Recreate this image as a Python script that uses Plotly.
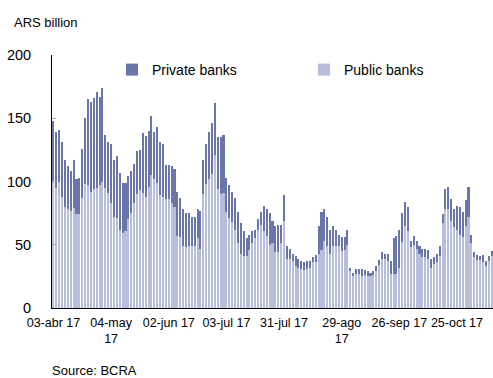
import plotly.graph_objects as go

# daily business-day series, 03-abr-17 onward (ARS billion)
public_banks = [100, 95, 100, 88, 80, 78, 77, 79, 74, 74, 87, 98, 97, 92, 94, 95, 97, 100, 95, 91,
                83, 72, 71, 62, 59, 61, 70, 75, 83, 90, 93, 91, 88, 96, 105, 102, 99, 89, 88, 86,
                86, 83, 80, 57, 56, 49, 48, 49, 49, 49, 55, 47, 90, 98, 102, 106, 121, 94, 90, 91,
                76, 71, 68, 62, 51, 43, 41, 41, 46, 51, 55, 62, 66, 61, 57, 50, 51, 44, 44, 51,
                69, 39, 39, 37, 33, 32, 31, 30, 31, 32, 36, 36, 43, 46, 53, 49, 43, 49, 49, 49,
                45, 46, 50, 29, 25, 27, 27, 25, 26, 25, 25, 26, 29, 34, 39, 39, 37, 27, 27, 27,
                32, 52, 65, 61, 48, 50, 47, 43, 40, 40, 39, 32, 35, 36, 41, 67, 78, 78, 69, 64,
                62, 58, 56, 65, 72, 51, 40, 38, 38, 36, 33, 37, 41]
private_banks = [48, 44, 41, 43, 37, 34, 31, 38, 28, 29, 39, 52, 68, 71, 72, 76, 70, 74, 42, 40,
                 47, 45, 49, 45, 40, 38, 34, 33, 31, 34, 32, 47, 48, 44, 47, 37, 44, 42, 42, 27,
                 27, 29, 30, 35, 31, 29, 27, 26, 23, 23, 23, 30, 27, 32, 37, 40, 41, 41, 45, 46,
                 27, 26, 24, 25, 25, 24, 20, 14, 12, 10, 7, 8, 10, 20, 21, 25, 18, 21, 22, 15,
                 20, 10, 8, 6, 8, 7, 6, 6, 6, 5, 4, 6, 22, 30, 25, 23, 19, 16, 13, 9,
                 11, 10, 12, 3, 3, 4, 4, 6, 4, 4, 3, 3, 4, 4, 5, 4, 6, 10, 28, 30,
                 30, 23, 19, 19, 5, 7, 6, 6, 7, 7, 7, 7, 5, 7, 8, 7, 16, 18, 17, 14,
                 19, 22, 20, 20, 24, 7, 4, 4, 3, 6, 4, 4, 4]
days = list(range(len(public_banks)))

tick_pos = [0, 20, 40, 60, 80, 100, 120, 140]
tick_labels = ['03-abr 17', '04-may<br>17', '02-jun 17', '03-jul 17', '31-jul 17',
               '29-ago<br>17', '26-sep 17', '25-oct 17']

fnt = 'Liberation Sans'
L, R, T, B = 52, 0, 55, 70
W, H = 493, 378
pw, ph = W - L - R, H - T - B


def px(x):
    return (x - L) / pw


def py(y):
    return (H - B - y) / ph


fig = go.Figure()
fig.add_trace(go.Bar(x=days, y=public_banks, name='Public banks', marker_color='#B9BDDC',
                     marker_line_width=0, legend='legend2'))
fig.add_trace(go.Bar(x=days, y=private_banks, name='Private banks', marker_color='#6A75A9',
                     marker_line_width=0, legend='legend'))

fig.update_layout(
    width=W, height=H, barmode='stack', bargap=0.3, showlegend=True,
    margin=dict(l=L, r=R, t=T, b=B, autoexpand=False),
    plot_bgcolor='white', paper_bgcolor='white',
    font=dict(family=fnt, size=13, color='black'),
    legend=dict(x=px(112), y=py(70), xanchor='left', yanchor='middle', bgcolor='rgba(0,0,0,0)',
                font=dict(size=14), itemwidth=30),
    legend2=dict(x=px(304), y=py(70), xanchor='left', yanchor='middle', bgcolor='rgba(0,0,0,0)',
                 font=dict(size=14), itemwidth=30),
    xaxis=dict(range=[-0.5, 152.5], tickvals=tick_pos, ticktext=tick_labels, tickangle=0,
               showline=True, linecolor='black', linewidth=1, ticks='', showgrid=False,
               tickfont=dict(size=12.5), automargin=False, ticklabelstandoff=3),
    yaxis=dict(range=[0, 200], tickvals=[0, 50, 100, 150, 200], showline=True,
               linecolor='black', linewidth=1, ticks='inside', ticklen=4, tickcolor='#aaaaaa',
               showgrid=False, zeroline=False, tickfont=dict(size=14.5), ticklabelstandoff=17,
               automargin=False),
    annotations=[
        dict(text='ARS billion', x=px(12), y=py(22), xref='paper', yref='paper',
             xanchor='left', yanchor='middle', showarrow=False, font=dict(size=13)),
        dict(text='Source: BCRA', x=px(50), y=py(370), xref='paper', yref='paper',
             xanchor='left', yanchor='middle', showarrow=False, font=dict(size=13)),
    ],
)

fig.write_html("out.html", config={'displayModeBar': False},
               post_script="document.body.style.margin='0';")
